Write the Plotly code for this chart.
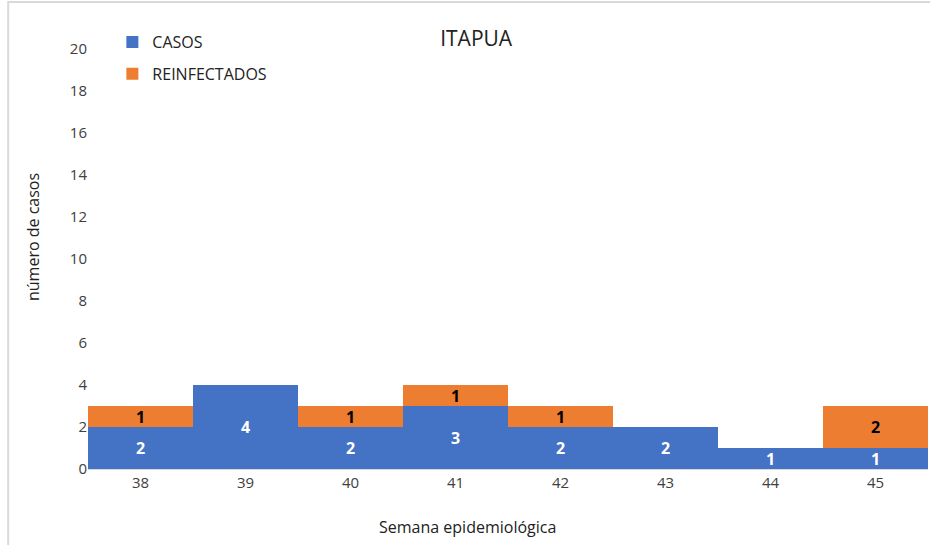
import plotly.graph_objects as go

semanas = ["38", "39", "40", "41", "42", "43", "44", "45"]
casos = [2, 4, 2, 3, 2, 2, 1, 1]
reinfectados = [1, 0, 1, 1, 1, 0, 0, 2]
y_ticks = [0, 2, 4, 6, 8, 10, 12, 14, 16, 18, 20]

FONT = "Open Sans"

fig = go.Figure()
fig.add_trace(go.Bar(
    x=semanas, y=casos, name="CASOS", legendgroup="a",
    marker=dict(color="#4472C4", line=dict(width=0)),
    text=[str(v) if v else "" for v in casos],
    textposition="inside", insidetextanchor="middle", textangle=0,
    textfont=dict(color="white", size=16, family=FONT, weight="bold"),
    constraintext="none",
))
fig.add_trace(go.Bar(
    x=semanas, y=reinfectados, name="REINFECTADOS", legendgroup="b",
    marker=dict(color="#ED7D31", line=dict(width=0)),
    text=[str(v) if v else "" for v in reinfectados],
    textposition="inside", insidetextanchor="middle", textangle=0,
    textfont=dict(color="black", size=16, family=FONT, weight="bold"),
    constraintext="none",
))

fig.update_layout(
    width=930, height=545,
    barmode="stack", bargap=0,
    plot_bgcolor="white", paper_bgcolor="white",
    font=dict(family=FONT, color="#404040", size=15),
    margin=dict(l=88, r=2, t=49, b=76, autoexpand=False),
    title=dict(text="ITAPUA", x=0.512, xanchor="center", y=0.930, yanchor="middle",
               font=dict(size=21, color="#222222", family=FONT)),
    showlegend=True,
    legend=dict(x=0.029, y=1.057, xanchor="left", yanchor="top",
                traceorder="grouped", tracegroupgap=8,
                font=dict(size=16, color="#222222", family=FONT),
                bgcolor="rgba(0,0,0,0)", itemwidth=30),
    uniformtext=dict(minsize=16, mode="show"),
    xaxis=dict(
        showgrid=False, showline=True, linecolor="#D9D9D9", linewidth=1,
        ticks="", tickfont=dict(size=15, color="#404040"),
    ),
    yaxis=dict(
        range=[0, 20], tickvals=y_ticks, showgrid=False, zeroline=False,
        showline=False, ticks="", tickfont=dict(size=15, color="#404040"),
    ),
    annotations=[
        dict(text="Semana epidemiológica", xref="paper", yref="paper",
             x=(467 - 88) / 840, y=(469 - 527) / 420, xanchor="center", yanchor="middle",
             showarrow=False, font=dict(size=16, color="#222222", family=FONT)),
        dict(text="número de casos", xref="paper", yref="paper", textangle=-90,
             x=(33 - 88) / 840, y=(469 - 237) / 420, xanchor="center", yanchor="middle",
             showarrow=False, font=dict(size=16, color="#222222", family=FONT)),
    ],
    shapes=[dict(type="rect", xref="paper", yref="paper",
                 x0=-0.095, x1=1.3, y0=-0.4, y1=1.112,
                 line=dict(color="#D9D9D9", width=2), layer="below")],
)

fig.write_html(
    "out.html",
    config={"displayModeBar": False},
    post_script="document.body.style.margin='0px';document.body.style.overflow='hidden';",
)
